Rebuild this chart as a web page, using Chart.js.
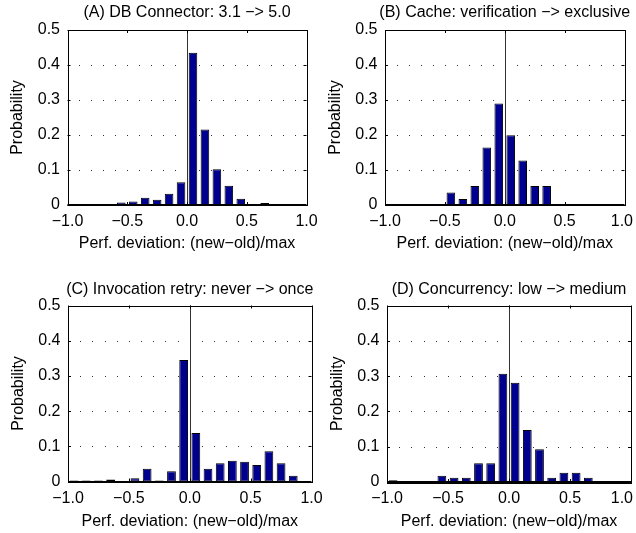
<!DOCTYPE html>
<html>
<head>
<meta charset="utf-8">
<script src="https://cdn.jsdelivr.net/npm/chart.js@4.4.0/dist/chart.umd.min.js"></script>
<style>
  html, body { margin: 0; padding: 0; background: #fff; }
  #wrap { position: relative; width: 636px; height: 533px; overflow: hidden; }
  #wrap canvas { position: absolute; left: 0; top: 0; }
</style>
</head>
<body>
<div id="wrap">
  <canvas id="chartA" width="636" height="533"></canvas>
  <canvas id="chartB" width="636" height="533"></canvas>
  <canvas id="chartC" width="636" height="533"></canvas>
  <canvas id="chartD" width="636" height="533"></canvas>
</div>
<script>
// histogram bins (centres) and tick labels
const binCenters = [-0.95, -0.85, -0.75, -0.65, -0.55, -0.45, -0.35, -0.25, -0.15, -0.05,
                    0.05, 0.15, 0.25, 0.35, 0.45, 0.55, 0.65, 0.75, 0.85, 0.95];
const xTickLabels = ['\u22121.0', '\u22120.5', '0.0', '0.5', '1.0'];
const yTickLabels = ['0', '0.1', '0.2', '0.3', '0.4', '0.5'];

const titles = [
  '(A) DB Connector: 3.1 \u2212> 5.0',
  '(B) Cache: verification \u2212> exclusive',
  '(C) Invocation retry: never \u2212> once',
  '(D) Concurrency: low \u2212> medium'
];

// probabilities per bin
const dbConnector = [0, 0.003, 0, 0, 0.007, 0.010, 0.021, 0.015, 0.032, 0.065,
                     0.435, 0.216, 0.102, 0.055, 0.018, 0.003, 0.006, 0.003, 0, 0];
const cache = [0, 0, 0, 0, 0, 0.036, 0.017, 0.054, 0.164, 0.290,
               0.199, 0.127, 0.054, 0.054, 0, 0, 0, 0, 0, 0];
const invocationRetry = [0.003, 0.003, 0.003, 0.006, 0, 0.009, 0.036, 0.003, 0.029, 0.345,
                         0.138, 0.036, 0.052, 0.059, 0.056, 0.047, 0.086, 0.052, 0.016, 0];
const concurrency = [0.005, 0, 0, 0, 0.018, 0.012, 0.012, 0.053, 0.053, 0.307,
                     0.281, 0.147, 0.093, 0.012, 0.026, 0.026, 0.012, 0, 0, 0];

const series = [dbConnector, cache, invocationRetry, concurrency];

// plot boxes on the page: left, right, top, bottom, title y, x-title y
const boxes = [
  [67.5, 306.5, 30, 205, 13, 244],
  [385, 624.5, 30, 205, 13, 244],
  [68, 311.5, 305.5, 481.5, 290, 522],
  [387, 631, 305.5, 482, 290, 522]
];

const W = 636, H = 533;
const Y_AXIS_W = 67.5;
const font = { family: '"Liberation Sans", Arial, Helvetica, sans-serif', size: 16 };
const fontStr = '16px "Liberation Sans", Arial, Helvetica, sans-serif';

const frame = {
  id: 'frame',
  beforeDatasetsDraw(chart) {
    const { ctx, chartArea: a, scales: { x, y } } = chart;
    ctx.save();
    // dotted horizontal grid
    ctx.fillStyle = '#333';
    for (let j = 1; j <= 4; j++) {
      const py = Math.round(y.getPixelForValue(j / 10));
      for (let k = -9; k <= 9; k++) {
        const px = Math.round(x.getPixelForValue(k / 10));
        ctx.fillRect(px, py, 1, 1);
      }
    }
    // zero line
    const zx = Math.round(x.getPixelForValue(0)) + 0.5;
    ctx.strokeStyle = '#333';
    ctx.lineWidth = 1;
    ctx.beginPath();
    ctx.moveTo(zx, a.top);
    ctx.lineTo(zx, a.bottom);
    ctx.stroke();
    ctx.restore();
  },
  afterDatasetsDraw(chart) {
    const { ctx, chartArea: a, scales: { x, y } } = chart;
    ctx.save();
    ctx.strokeStyle = '#000';
    ctx.lineWidth = 1;
    ctx.strokeRect(Math.round(a.left) + 0.5, Math.round(a.top) + 0.5,
                   Math.round(a.right - a.left), Math.round(a.bottom - a.top));
    // inward tick marks
    ctx.beginPath();
    x.ticks.forEach(t => {
      const px = Math.round(x.getPixelForValue(t.value)) + 0.5;
      ctx.moveTo(px, a.bottom); ctx.lineTo(px, a.bottom - 3);
      ctx.moveTo(px, a.top); ctx.lineTo(px, a.top + 3);
    });
    y.ticks.forEach(t => {
      const py = Math.round(y.getPixelForValue(t.value)) + 0.5;
      ctx.moveTo(a.left, py); ctx.lineTo(a.left + 3, py);
      ctx.moveTo(a.right, py); ctx.lineTo(a.right - 3, py);
    });
    ctx.stroke();
    // baseline a bit heavier, like the reference
    ctx.lineWidth = 2;
    ctx.beginPath();
    ctx.moveTo(a.left, Math.round(a.bottom));
    ctx.lineTo(a.right, Math.round(a.bottom));
    ctx.stroke();

    ctx.fillStyle = '#000';
    ctx.font = fontStr;
    ctx.textBaseline = 'middle';
    // x tick labels, kept inside the page
    ctx.textAlign = 'center';
    x.ticks.forEach((t, k) => {
      const lbl = xTickLabels[k];
      const half = ctx.measureText(lbl).width / 2;
      let px = x.getPixelForValue(t.value);
      px = Math.min(px, W - 3 - half);
      ctx.fillText(lbl, px, a.bottom + 17);
    });
    // title centred on the plot box
    const i = chart.options.plugins.frame.index;
    ctx.fillText(titles[i], (a.left + a.right) / 2, boxes[i][4]);
    ctx.restore();
  }
};

function drawPanel(id, i) {
  const [l, r, t, b, , xTitleY] = boxes[i];
  const xAxisH = xTitleY + 9.6 - b;
  const ctx = document.getElementById(id).getContext('2d');
  return new Chart(ctx, {
    type: 'bar',
    data: {
      datasets: [{
        data: binCenters.map((c, k) => ({ x: c, y: series[i][k] })),
        backgroundColor: '#00008f',
        borderColor: '#000',
        borderWidth: 1,
        borderSkipped: false,
        barPercentage: 0.72,
        categoryPercentage: 1
      }]
    },
    options: {
      responsive: false,
      animation: false,
      layout: { padding: { left: l - Y_AXIS_W, top: t, right: W - r, bottom: H - b - xAxisH } },
      plugins: {
        legend: { display: false },
        tooltip: { enabled: false },
        frame: { index: i }
      },
      scales: {
        x: {
          type: 'linear', min: -1, max: 1, offset: false,
          grid: { display: false, drawTicks: false },
          border: { display: false },
          ticks: { stepSize: 0.5, autoSkip: false, maxRotation: 0, display: false },
          title: { display: true, text: 'Perf. deviation: (new\u2212old)/max', color: '#000', font, padding: { top: 0, bottom: 0 } },
          afterFit: s => { s.height = xAxisH; s.paddingLeft = 0; s.paddingRight = 0; }
        },
        y: {
          min: 0, max: 0.5,
          grid: { display: false, drawTicks: false },
          border: { display: false },
          ticks: {
            stepSize: 0.1, padding: 7.5, color: '#000', font,
            callback: (v, k) => yTickLabels[k]
          },
          title: { display: true, text: 'Probability', color: '#000', font, padding: { top: 8.2, bottom: 0 } },
          afterFit: s => { s.width = Y_AXIS_W; s.paddingTop = 0; s.paddingBottom = 0; }
        }
      }
    },
    plugins: [frame]
  });
}

drawPanel('chartA', 0);
drawPanel('chartB', 1);
drawPanel('chartC', 2);
drawPanel('chartD', 3);
</script>
</body>
</html>
